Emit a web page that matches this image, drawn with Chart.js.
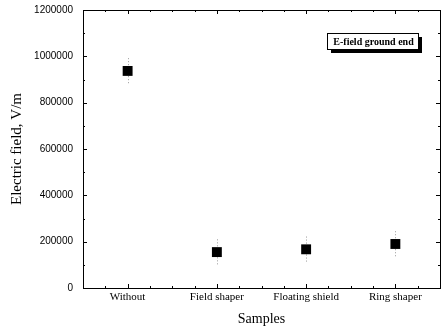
<!DOCTYPE html>
<html>
<head>
<meta charset="utf-8">
<script src="https://cdn.jsdelivr.net/npm/chart.js@4/dist/chart.umd.min.js"></script>
<style>
  body { margin: 0; background: #fff; }
  #wrap { width: 447px; height: 328px; }
</style>
</head>
<body>
<div id="wrap"><canvas id="chart" width="447" height="328"></canvas></div>
<script>
const samples = ["Without", "Field shaper", "Floating shield", "Ring shaper"];
const fieldValues = [937000, 155000, 167000, 190000];
const fieldErrors = [55000, 55000, 55000, 55000];
const yTicks = [0, 200000, 400000, 600000, 800000, 1000000, 1200000];
const legendText = "E-field ground end";

const serif = "'Liberation Serif', 'DejaVu Serif', serif";
const sans = "'Liberation Sans', Arial, sans-serif";

// dotted error bars, drawn from the y scale
const errorBars = {
  id: "errorBars",
  beforeDatasetsDraw(chart) {
    const ctx = chart.ctx;
    const x = chart.scales.x, y = chart.scales.y;
    ctx.save();
    ctx.strokeStyle = "#999";
    ctx.lineWidth = 1;
    ctx.setLineDash([1, 2]);
    fieldValues.forEach((v, i) => {
      const px = Math.round(x.getPixelForValue(i)) + 0.5;
      ctx.beginPath();
      ctx.moveTo(px, y.getPixelForValue(v + fieldErrors[i]));
      ctx.lineTo(px, y.getPixelForValue(v - fieldErrors[i]));
      ctx.stroke();
    });
    ctx.restore();
  }
};

// box frame with inward ticks on all four sides + legend box
const frame = {
  id: "frame",
  afterDraw(chart) {
    const ctx = chart.ctx;
    const a = chart.chartArea;
    const x = chart.scales.x, y = chart.scales.y;
    ctx.save();
    ctx.strokeStyle = "#000";
    ctx.lineWidth = 1;
    ctx.strokeRect(Math.round(a.left) + 0.5, Math.round(a.top) + 0.5,
                   Math.round(a.right - a.left), Math.round(a.bottom - a.top));
    ctx.beginPath();
    for (let v = 0; v <= 1200000; v += 100000) {
      const py = Math.round(y.getPixelForValue(v)) + 0.5;
      const len = v % 200000 === 0 ? 4 : 2;
      ctx.moveTo(a.left, py); ctx.lineTo(a.left + len, py);
      ctx.moveTo(a.right, py); ctx.lineTo(a.right - len, py);
    }
    for (let k = -0.5; k <= samples.length - 0.5 + 0.01; k += 0.25) {
      const px = Math.round(x.getPixelForValue(k)) + 0.5;
      const len = Math.abs(k - Math.round(k)) < 0.01 ? 4 : 2;
      ctx.moveTo(px, a.bottom); ctx.lineTo(px, a.bottom - len);
      ctx.moveTo(px, a.top); ctx.lineTo(px, a.top + len);
    }
    ctx.stroke();

    // legend box with drop shadow
    const bx = 327, by = 33, bw = 91, bh = 16;
    ctx.fillStyle = "#000";
    ctx.fillRect(bx + 4, by + 4, bw, bh);
    ctx.fillStyle = "#fff";
    ctx.fillRect(bx, by, bw, bh);
    ctx.strokeRect(bx + 0.5, by + 0.5, bw, bh);
    ctx.fillStyle = "#000";
    ctx.font = "bold 10px " + serif;
    ctx.textBaseline = "middle";
    ctx.textAlign = "center";
    ctx.fillText(legendText, bx + bw / 2 + 1, by + bh / 2 + 1);
    ctx.restore();
  }
};

new Chart(document.getElementById("chart"), {
  type: "line",
  data: {
    labels: samples,
    datasets: [{
      label: legendText,
      data: fieldValues,
      showLine: false,
      pointStyle: "rect",
      pointRadius: 7,
      pointHoverRadius: 7,
      backgroundColor: "#000",
      borderColor: "#000",
      borderWidth: 0
    }]
  },
  options: {
    responsive: false,
    animation: false,
    layout: { padding: { left: 0, top: 10, right: 4, bottom: 0 } },
    plugins: { legend: { display: false }, tooltip: { enabled: false } },
    scales: {
      x: {
        type: "category",
        offset: true,
        grid: { display: false, drawTicks: false },
        border: { display: false },
        ticks: { color: "#000", font: { family: serif, size: 11 }, padding: 3, maxRotation: 0 },
        title: { display: true, text: "Samples", color: "#000", font: { family: serif, size: 14 }, padding: { top: 4, bottom: 0 } },
        afterFit(scale) { scale.height = 40; scale.paddingLeft = 0; scale.paddingRight = 0; }
      },
      y: {
        min: 0,
        max: 1200000,
        afterBuildTicks(scale) { scale.ticks = yTicks.map(v => ({ value: v })); },
        grid: { display: false, drawTicks: false },
        border: { display: false },
        ticks: { color: "#000", font: { family: sans, size: 10 }, padding: 10, callback: v => String(v) },
        title: { display: true, text: "Electric field, V/m", color: "#000", font: { family: serif, size: 15 }, padding: { top: 8, bottom: 4 } },
        afterFit(scale) { scale.width = 83; scale.paddingTop = 0; scale.paddingBottom = 0; }
      }
    }
  },
  plugins: [errorBars, frame]
});
</script>
</body>
</html>
